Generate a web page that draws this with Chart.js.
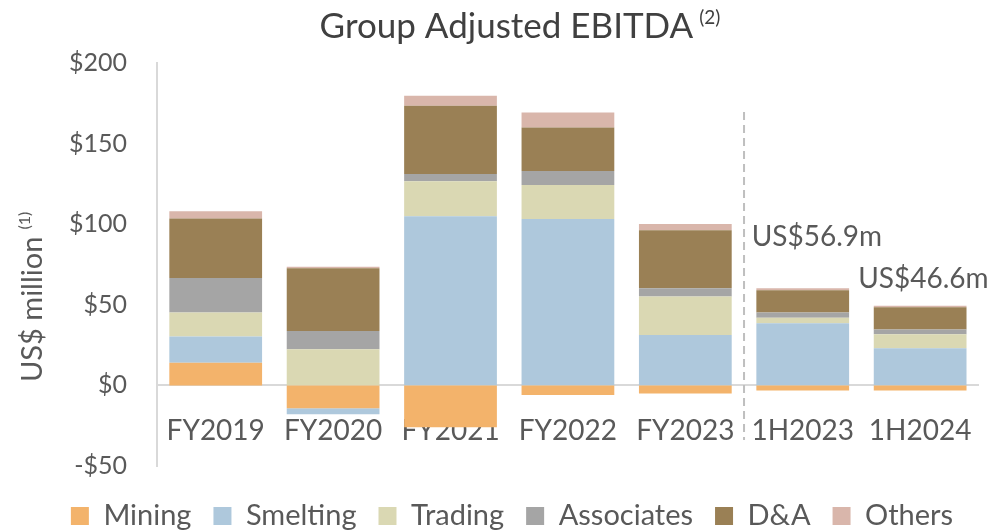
<!DOCTYPE html>
<html lang="en">
<head>
  <meta charset="UTF-8" />
  <title>Group Adjusted EBITDA</title>
  <script src="https://cdn.jsdelivr.net/npm/chart.js"></script>
  <style>
    html, body { margin: 0; padding: 0; background: #fff; }
    #wrap { width: 1002px; height: 531px; }
  </style>
</head>
<body>
  <div id="wrap"><canvas id="ebitdaChart"></canvas></div>

  <script>
    const periods = ['FY2019', 'FY2020', 'FY2021', 'FY2022', 'FY2023', '1H2023', '1H2024'];
    const mining     = [14.0, -14.2, -26.0, -6.0, -5.0, -3.2, -3.2];
    const smelting   = [16.4, -3.7, 104.9, 103.2, 31.3, 38.5, 23.0];
    const trading    = [14.8, 22.4, 21.8, 21.1, 23.8, 3.4, 8.7];
    const associates = [21.4, 11.4, 4.4, 8.7, 5.2, 3.3, 2.9];
    const dna        = [37.0, 38.8, 42.4, 27.0, 35.9, 13.9, 13.9];
    const others     = [4.4, 1.0, 6.2, 9.3, 4.0, 1.1, 0.9];
    const yTicks     = [-50, 0, 50, 100, 150, 200];
    const callouts   = [
      { period: '1H2023', text: 'US$56.9m' },
      { period: '1H2024', text: 'US$46.6m' }
    ];

    const FONT = 'Lato, "Open Sans", sans-serif';
    const TEXT = '#595959';
    const PAD_LEFT = 44;

    // title, y-axis title, divider line and callouts
    const extras = {
      id: 'extras',
      afterDraw(chart) {
        const ctx = chart.ctx;
        const x = chart.scales.x, y = chart.scales.y;
        ctx.save();

        // title with superscript
        ctx.fillStyle = '#404040';
        ctx.textBaseline = 'alphabetic';
        ctx.font = '35px ' + FONT;
        const main = 'Group Adjusted EBITDA';
        const mw = ctx.measureText(main).width;
        ctx.font = '19px ' + FONT;
        const sw = ctx.measureText('(2)').width;
        const tx = 520 - (mw + 6 + sw) / 2;
        ctx.font = '35px ' + FONT;
        ctx.textAlign = 'left';
        ctx.fillText(main, tx, 38);
        ctx.font = '19px ' + FONT;
        ctx.fillText('(2)', tx + mw + 6, 24);

        // y axis title
        ctx.save();
        ctx.translate(42, 382);
        ctx.rotate(-Math.PI / 2);
        ctx.fillStyle = TEXT;
        ctx.font = '29px ' + FONT;
        const yt = 'US$ million';
        const yw = ctx.measureText(yt).width;
        ctx.fillText(yt, 0, 0);
        ctx.font = '16px ' + FONT;
        ctx.fillText('(1)', yw + 7, -12);
        ctx.restore();

        // dashed divider between FY and half-year figures
        const xd = (x.getPixelForValue(4) + x.getPixelForValue(5)) / 2;
        ctx.strokeStyle = '#bfbfbf';
        ctx.lineWidth = 2;
        ctx.setLineDash([8, 5]);
        ctx.beginPath();
        ctx.moveTo(xd, 112);
        ctx.lineTo(xd, 440);
        ctx.stroke();
        ctx.setLineDash([]);

        // callouts
        ctx.fillStyle = TEXT;
        ctx.font = '28px ' + FONT;
        ctx.textAlign = 'left';
        const offs = [[-51, 86.3], [-62, 60.2]];
        callouts.forEach((c, i) => {
          const cx = x.getPixelForValue(periods.indexOf(c.period));
          ctx.fillText(c.text, cx + offs[i][0], y.getPixelForValue(offs[i][1]));
        });

        ctx.restore();
      }
    };

    const seriesStyle = (label, data, color) => ({
      label: label,
      data: data,
      backgroundColor: color,
      borderWidth: 0,
      categoryPercentage: 1,
      barPercentage: 0.79
    });

    new Chart(document.getElementById('ebitdaChart'), {
      type: 'bar',
      data: {
        labels: periods,
        datasets: [
          seriesStyle('Mining', mining, '#F3B36B'),
          seriesStyle('Smelting', smelting, '#AEC8DC'),
          seriesStyle('Trading', trading, '#DAD8B3'),
          seriesStyle('Associates', associates, '#A5A5A5'),
          seriesStyle('D&A', dna, '#9A8055'),
          seriesStyle('Others', others, '#D9B6AB')
        ]
      },
      options: {
        responsive: true,
        maintainAspectRatio: false,
        animation: false,
        layout: { padding: { top: 63, right: 22, bottom: -9.5, left: PAD_LEFT } },
        plugins: {
          title: { display: false },
          tooltip: { enabled: false },
          legend: {
            position: 'bottom',
            title: { display: true, text: ' ', font: { size: 10 }, padding: { top: 0, bottom: 1.5 } },
            labels: {
              boxWidth: 18,
              boxHeight: 18,
              padding: 22,
              color: TEXT,
              font: { family: FONT, size: 29 }
            }
          }
        },
        scales: {
          x: {
            stacked: true,
            position: { y: 0 },
            grid: { display: false, drawTicks: false },
            border: { color: '#d9d9d9', width: 2 },
            ticks: {
              color: TEXT,
              padding: 29,
              font: { family: FONT, size: 28 }
            }
          },
          y: {
            stacked: true,
            min: -50,
            max: 200,
            afterBuildTicks: s => { s.ticks = yTicks.map(v => ({ value: v })); },
            afterFit: s => { s.width = 157 - PAD_LEFT; },
            grid: { display: false, drawTicks: false },
            border: { color: '#d9d9d9', width: 2 },
            ticks: {
              color: TEXT,
              padding: 30,
              font: { family: FONT, size: 25 },
              callback: v => (v < 0 ? '-$' : '$') + Math.abs(v)
            }
          }
        }
      },
      plugins: [extras]
    });
  </script>
</body>
</html>
